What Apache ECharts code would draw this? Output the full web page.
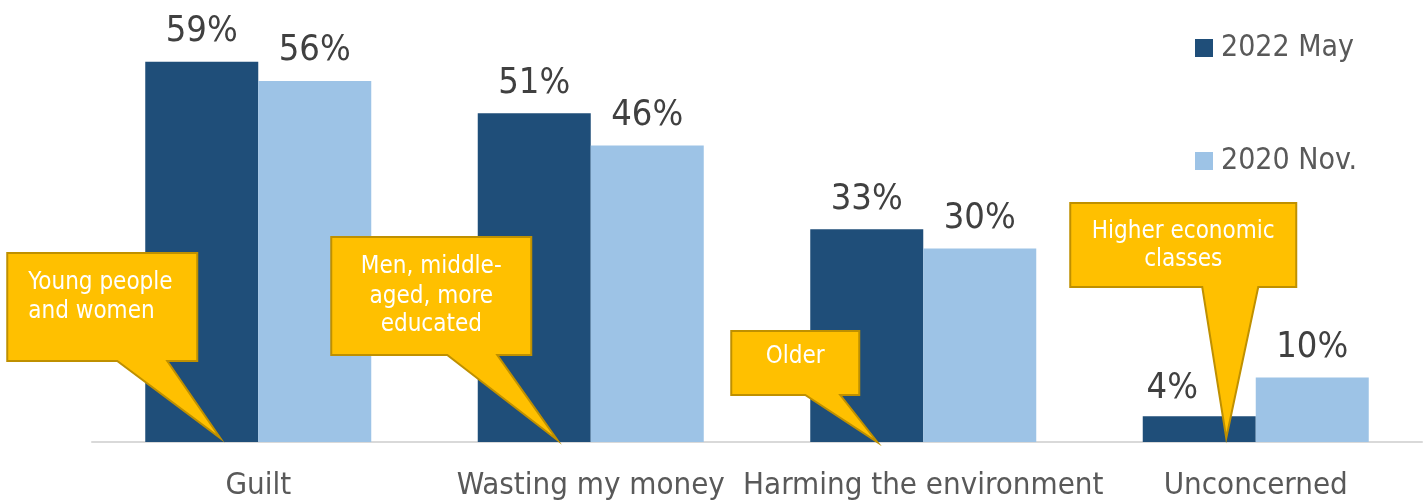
<!DOCTYPE html>
<html>
<head>
<meta charset="utf-8">
<script src="https://cdn.jsdelivr.net/npm/echarts@6/dist/echarts.min.js"></script>
<style>
  html, body { margin: 0; padding: 0; background: #ffffff; }
  #chart { width: 1428px; height: 504px; }
</style>
</head>
<body>
<div id="chart"></div>
<script>
// Reasons people give for feeling bad about food waste, two survey waves
const categories = ['Guilt', 'Wasting my money', 'Harming the environment', 'Unconcerned'];
const seriesNames = ['2022 May', '2020 Nov.'];
const may2022 = [59, 51, 33, 4];
const nov2020 = [56, 46, 30, 10];

// Callout notes: which category they point into, and their text lines
const calloutCategory = [0, 1, 2, 3];
const calloutText = [
  ['Young people', 'and women'],
  ['Men, middle-', 'aged, more', 'educated'],
  ['Older'],
  ['Higher economic', 'classes']
];

const FONT = "'DejaVu Sans Condensed', 'DejaVu Sans', sans-serif";
const DARK = '#1F4E79';
const LIGHT = '#9DC3E6';

const chart = echarts.init(document.getElementById('chart'), null, { renderer: 'canvas' });

const valueLabel = {
  show: true,
  position: 'top',
  distance: 12,
  formatter: '{c}%',
  color: '#404040',
  fontSize: 36,
  fontFamily: FONT
};

// The last dark bar's label is nudged left so the callout pointer clears it
const may2022Data = may2022.map(function (v, i) {
  return i === 3 ? { value: v, label: { offset: [-27, 2] } } : v;
});

chart.setOption({
  animation: false,
  backgroundColor: '#ffffff',
  grid: { left: 92, right: 6, top: 23, bottom: 62, containLabel: false },
  legend: {
    orient: 'vertical',
    left: 1195,
    top: 33,
    padding: 0,
    itemWidth: 18,
    itemHeight: 18,
    itemGap: 83,
    icon: 'rect',
    textStyle: { color: '#595959', fontSize: 30, fontFamily: FONT, padding: [0, 0, 0, 3] },
    data: seriesNames
  },
  xAxis: {
    type: 'category',
    data: categories,
    axisLine: { show: true, lineStyle: { color: '#D9D9D9', width: 2 } },
    axisTick: { show: false },
    axisLabel: { color: '#595959', fontSize: 31, fontFamily: FONT, margin: 28, interval: 0 }
  },
  yAxis: {
    type: 'value',
    min: 0,
    max: 65,
    show: false,
    splitLine: { show: false }
  },
  series: [
    {
      name: seriesNames[0],
      type: 'bar',
      data: may2022Data,
      barWidth: 113,
      barGap: '0%',
      itemStyle: { color: DARK },
      label: valueLabel
    },
    {
      name: seriesNames[1],
      type: 'bar',
      data: nov2020,
      barWidth: 113,
      barGap: '0%',
      itemStyle: { color: LIGHT },
      label: valueLabel
    }
  ]
});

// Callout shapes: box edges, pointer base and tip, in pixels relative to
// the category centre on the baseline.
const calloutShape = [
  { box: [-251, -189, -61, -81], base: [-141, -91], tip: [-38, -4], align: 'left', textX: -230, lineY: [-159, -130] },
  { box: [-259.5, -205, -59.5, -87], base: [-143.5, -93.5], tip: [-33.5, -2], align: 'center', lineY: [-175, -145, -117] },
  { box: [-192, -111, -64, -47], base: [-118, -83], tip: [-46, 0], align: 'center', lineY: [-85] },
  { box: [-185.5, -239, 40.5, -155], base: [-53.5, 2.5], tip: [-29.5, -4], align: 'center', lineY: [-210, -182] }
];

function buildCallouts() {
  const graphics = [];
  calloutCategory.forEach(function (ci, i) {
    const anchor = chart.convertToPixel({ xAxisIndex: 0, yAxisIndex: 0 }, [ci, 0]);
    const cx = anchor[0], cy = anchor[1];
    const s = calloutShape[i];
    const [x0, y0, x1, y1] = s.box;
    const pts = [
      [cx + x0, cy + y0],
      [cx + x1, cy + y0],
      [cx + x1, cy + y1],
      [cx + s.base[1], cy + y1],
      [cx + s.tip[0], cy + s.tip[1]],
      [cx + s.base[0], cy + y1],
      [cx + x0, cy + y1]
    ];
    graphics.push({
      type: 'polygon',
      shape: { points: pts },
      style: { fill: '#FFC000', stroke: '#BF9000', lineWidth: 2, lineJoin: 'miter' },
      z: 10
    });
    const tx = s.align === 'left' ? cx + s.textX : cx + (x0 + x1) / 2;
    calloutText[i].forEach(function (line, k) {
      graphics.push({
        type: 'text',
        x: tx,
        y: cy + s.lineY[k],
        style: {
          text: line,
          fill: '#ffffff',
          font: '24px ' + FONT,
          align: s.align,
          verticalAlign: 'middle'
        },
        z: 11
      });
    });
  });
  chart.setOption({ graphic: graphics });
}

buildCallouts();
</script>
</body>
</html>
